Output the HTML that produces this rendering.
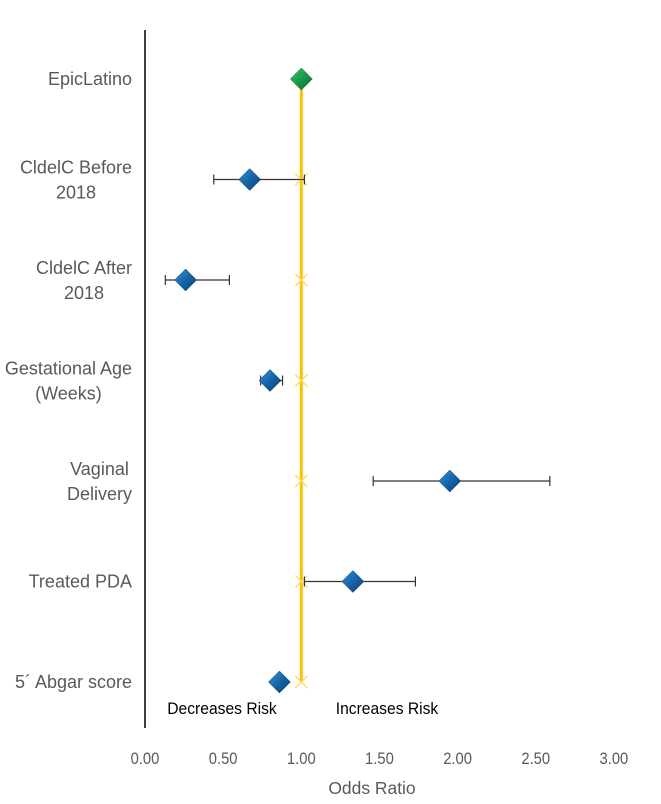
<!DOCTYPE html>
<html><head><meta charset="utf-8"><style>
body{margin:0;background:#fff;width:661px;height:804px;overflow:hidden}
svg{display:block;font-family:"Liberation Sans",sans-serif}
</style></head><body>
<svg id="chart" width="661" height="804"></svg>
<script>
const categories=["EpicLatino","CldelC Before|2018","CldelC After|2018","Gestational Age|(Weeks)","Vaginal|Delivery","Treated PDA","5´ Abgar score"];
const oddsRatios=[1.00,0.67,0.26,0.80,1.95,1.33,0.86];
const ciLow=[null,0.44,0.13,0.74,1.46,1.02,null];
const ciHigh=[null,1.02,0.54,0.88,2.59,1.73,null];
const refValues=[1,1,1,1,1,1,1];
const xTicks=[0,0.5,1,1.5,2,2.5,3];
const NS="http://www.w3.org/2000/svg";
const svg=document.getElementById('chart');
const x=v=>145+v*156.3;
const y=i=>79+i*100.5;
function mk(t,a,p){const e=document.createElementNS(NS,t);for(const k in a)e.setAttribute(k,a[k]);(p||svg).appendChild(e);return e;}
function sq(cx,p,s){s=s||0.87;return mk('g',{transform:`translate(${cx},0) scale(${s},1) translate(${-cx},0)`},p);}
const defs=mk('defs',{});
defs.innerHTML='<linearGradient id="gb" x1="0" y1="0" x2="1" y2="1"><stop offset="0" stop-color="#3a8fd6"/><stop offset="0.5" stop-color="#1565a8"/><stop offset="1" stop-color="#0b3f70"/></linearGradient><linearGradient id="gg" x1="0" y1="0" x2="1" y2="1"><stop offset="0" stop-color="#3cc46a"/><stop offset="0.5" stop-color="#1a9a48"/><stop offset="1" stop-color="#0c6a2e"/></linearGradient>';
let ax=mk('line',{x1:145,y1:30,x2:145,y2:728,stroke:'#000','stroke-width':1.5});

let rl=mk('line',{x1:x(1),y1:y(0),x2:x(1),y2:y(6),stroke:'#ffc000','stroke-width':3});

refValues.forEach((v,i)=>{
 const g=mk('g',{stroke:'#ffd966','stroke-width':1.5});
 
 mk('line',{x1:x(v)-6,y1:y(i)-6,x2:x(v)+6,y2:y(i)+6},g);
 mk('line',{x1:x(v)-6,y1:y(i)+6,x2:x(v)+6,y2:y(i)-6},g);
});
categories.forEach((c,i)=>{
 const lines=c.split('|');
 const t=mk('text',{x:68,'text-anchor':'middle','font-size':18,fill:'#595959'});
 
 const spans=lines.map((l,j)=>{const ts=mk('tspan',{x:68,y:lines.length==1?y(i)+6:y(i)-6+j*25},t);ts.textContent=l;return ts;});
 let w=0;spans.forEach(s=>{w=Math.max(w,s.getComputedTextLength());});
 const cx=132-w/2;
 spans.forEach(s=>s.setAttribute('x',cx));
 if(ciLow[i]!=null){
  const g=mk('g',{stroke:'#333','stroke-width':1.2});
  
  mk('line',{x1:x(ciLow[i]),y1:y(i),x2:x(ciHigh[i]),y2:y(i)},g);
  mk('line',{x1:x(ciLow[i]),y1:y(i)-5,x2:x(ciLow[i]),y2:y(i)+5},g);
  mk('line',{x1:x(ciHigh[i]),y1:y(i)-5,x2:x(ciHigh[i]),y2:y(i)+5},g);
 }
 const px=x(oddsRatios[i]),cy=y(i),s=11;
 const d=mk('polygon',{points:`${px},${cy-s} ${px+s},${cy} ${px},${cy+s} ${px-s},${cy}`,fill:i==0?'url(#gg)':'url(#gb)',stroke:i==0?'#0c6a2e':'#0b3f70','stroke-width':0.5});
 
});
xTicks.forEach(v=>{
 const t=mk('text',{x:x(v),y:764,'text-anchor':'middle','font-size':17,fill:'#595959'},sq(x(v)));
 
 t.textContent=v.toFixed(2);
});
let xt=mk('text',{x:372,y:794,'text-anchor':'middle','font-size':18,fill:'#595959'},sq(372,null,0.97));
xt.textContent='Odds Ratio';
let a1=mk('text',{x:222,y:714,'text-anchor':'middle','font-size':17,fill:'#000'},sq(222,null,0.92));
a1.textContent='Decreases Risk';
let a2=mk('text',{x:387,y:714,'text-anchor':'middle','font-size':17,fill:'#000'},sq(387,null,0.92));
a2.textContent='Increases Risk';
</script>
</body></html>
